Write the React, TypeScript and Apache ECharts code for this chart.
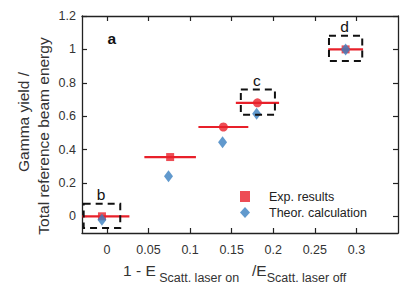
import React, { useEffect, useRef } from 'react';
import * as echarts from 'echarts';

const xTicks = [0, 0.05, 0.1, 0.15, 0.2, 0.25, 0.3];
const yTicks = [0, 0.2, 0.4, 0.6, 0.8, 1, 1.2];

const expX = [-0.006, 0.076, 0.14, 0.181, 0.287];
const expY = [0, 0.355, 0.535, 0.68, 1.0];
const expXErr = [0.033, 0.031, 0.03, 0.026, 0.021];

const theoX = [-0.006, 0.074, 0.139, 0.18, 0.287];
const theoY = [-0.02, 0.24, 0.443, 0.615, 1.0];

const boxLabels = ['b', 'c', 'd'];
const boxX0 = [-0.028, 0.161, 0.267];
const boxX1 = [0.016, 0.202, 0.307];
const boxY0 = [-0.07, 0.609, 0.93];
const boxY1 = [0.075, 0.759, 1.082];

const panelLabel = ['a'];
const panelPos = [[0.006, 1.063]];

const RED = '#e8202a';
const BLUE = '#3a7fc0';
const FONT = 'Liberation Sans, Arial, sans-serif';

export default function App() {
  const ref = useRef<HTMLDivElement>(null);
  useEffect(() => {
    if (!ref.current) return;
    const chart = echarts.init(ref.current, null, { renderer: 'svg' });
    const axisLine = { show: true, onZero: false, lineStyle: { color: '#222', width: 1.3 } };
    const tickStyle = { lineStyle: { color: '#222', width: 1.2 } };
    chart.setOption({
      animation: false,
      textStyle: { fontFamily: FONT },
      grid: { left: 82, right: 9, top: 16, bottom: 52 },
      legend: {
        orient: 'vertical',
        left: 235,
        top: 185,
        itemWidth: 10,
        itemHeight: 11,
        itemGap: 3,
        textStyle: { fontSize: 12.5, color: '#222', fontFamily: FONT, padding: [0, 0, 0, 14] },
        data: ['Exp. results', 'Theor. calculation'],
      },
      xAxis: [
        {
          type: 'value', min: -0.03, max: 0.35, position: 'bottom',
          axisLine, splitLine: { show: false },
          axisTick: { inside: true, length: 5, customValues: xTicks, ...tickStyle },
          axisLabel: { customValues: xTicks, fontSize: 12.5, color: '#333', margin: 10, fontFamily: FONT },
        },
        {
          type: 'value', min: -0.03, max: 0.35, position: 'top',
          axisLine, splitLine: { show: false },
          axisTick: { inside: true, length: 5, customValues: xTicks, ...tickStyle },
          axisLabel: { show: false },
        },
      ],
      yAxis: [
        {
          type: 'value', min: -0.1, max: 1.2, position: 'left',
          axisLine, splitLine: { show: false },
          axisTick: { inside: true, length: 5, customValues: yTicks, ...tickStyle },
          axisLabel: { customValues: yTicks, fontSize: 12.5, color: '#333', margin: 6, fontFamily: FONT },
        },
        {
          type: 'value', min: -0.1, max: 1.2, position: 'right',
          axisLine, splitLine: { show: false },
          axisTick: { inside: true, length: 5, customValues: yTicks, ...tickStyle },
          axisLabel: { show: false },
        },
      ],
      series: [
        {
          type: 'custom',
          name: 'errbar',
          clip: true,
          silent: true,
          data: expX.map((x, i) => [x, expY[i], expXErr[i]]),
          renderItem: (params: any, api: any) => {
            const x = api.value(0), y = api.value(1), e = api.value(2);
            const p1 = api.coord([x - e, y]);
            const p2 = api.coord([x + e, y]);
            return {
              type: 'line',
              shape: { x1: p1[0], y1: p1[1], x2: p2[0], y2: p2[1] },
              style: { stroke: RED, lineWidth: 2.2 },
            };
          },
          z: 1,
        },
        {
          type: 'scatter',
          name: 'Exp. results',
          symbol: 'rect',
          symbolSize: 8,
          itemStyle: { color: RED },
          data: expX.map((x, i) => ({
            value: [x, expY[i]],
            symbol: i === 2 || i === 3 ? 'circle' : 'rect',
            symbolSize: i === 2 || i === 3 ? 9 : 8,
          })),
          z: 2,
        },
        {
          type: 'scatter',
          name: 'Theor. calculation',
          symbol: 'diamond',
          symbolSize: [9, 12],
          itemStyle: { color: BLUE },
          data: theoX.map((x, i) => [x, theoY[i]]),
          z: 3,
        },
        {
          type: 'custom',
          name: 'boxes',
          silent: true,
          data: boxLabels.map((l, i) => [boxX0[i], boxX1[i], boxY0[i], boxY1[i], l]),
          renderItem: (params: any, api: any) => {
            const p0 = api.coord([api.value(0), api.value(3)]);
            const p1 = api.coord([api.value(1), api.value(2)]);
            const label = boxLabels[params.dataIndex];
            return {
              type: 'group',
              children: [
                {
                  type: 'rect',
                  shape: { x: p0[0], y: p0[1], width: p1[0] - p0[0], height: p1[1] - p0[1] },
                  style: { fill: 'none', stroke: '#111', lineWidth: 2, lineDash: [7, 5] },
                },
                {
                  type: 'text',
                  x: (p0[0] + p1[0]) / 2 - 1,
                  y: p0[1] - 1,
                  style: { text: label, fontSize: 15.5, fill: '#111', align: 'center', verticalAlign: 'bottom', fontFamily: FONT },
                },
              ],
            };
          },
          z: 4,
        },
        {
          type: 'custom',
          name: 'panel',
          silent: true,
          data: panelPos.map((p, i) => [p[0], p[1], panelLabel[i]]),
          renderItem: (params: any, api: any) => {
            const p = api.coord([api.value(0), api.value(1)]);
            return {
              type: 'text',
              x: p[0],
              y: p[1],
              style: { text: panelLabel[params.dataIndex], fontSize: 15.5, fontWeight: 'bold', fill: '#111', align: 'center', verticalAlign: 'middle', fontFamily: FONT },
            };
          },
          z: 5,
        },
      ],
      graphic: [
        {
          type: 'text',
          x: 23,
          y: 122,
          rotation: Math.PI / 2,
          style: { text: 'Gamma yield /', fontSize: 15.5, fill: '#333', align: 'center', verticalAlign: 'middle', fontFamily: FONT },
        },
        {
          type: 'text',
          x: 43,
          y: 136,
          rotation: Math.PI / 2,
          style: { text: 'Total reference beam energy', fontSize: 15.5, fill: '#333', align: 'center', verticalAlign: 'middle', fontFamily: FONT },
        },
        {
          type: 'text',
          x: 123,
          y: 262,
          style: {
            text: '{n|1 - E}{s| Scatt. laser on}{n|   /E}{s|Scatt. laser off}',
            align: 'left',
            verticalAlign: 'top',
            fontFamily: FONT,
            rich: {
              n: { fontSize: 15.5, lineHeight: 15, verticalAlign: 'top', fill: '#333', fontFamily: FONT },
              s: { fontSize: 12.5, lineHeight: 12, padding: [9, 0, 0, 0], verticalAlign: 'top', fill: '#333', fontFamily: FONT },
            },
          },
        },
      ],
    });
    return () => chart.dispose();
  }, []);
  return <div ref={ref} style={{ position: 'absolute', left: 0, top: 0, width: 407, height: 285 }} />;
}
